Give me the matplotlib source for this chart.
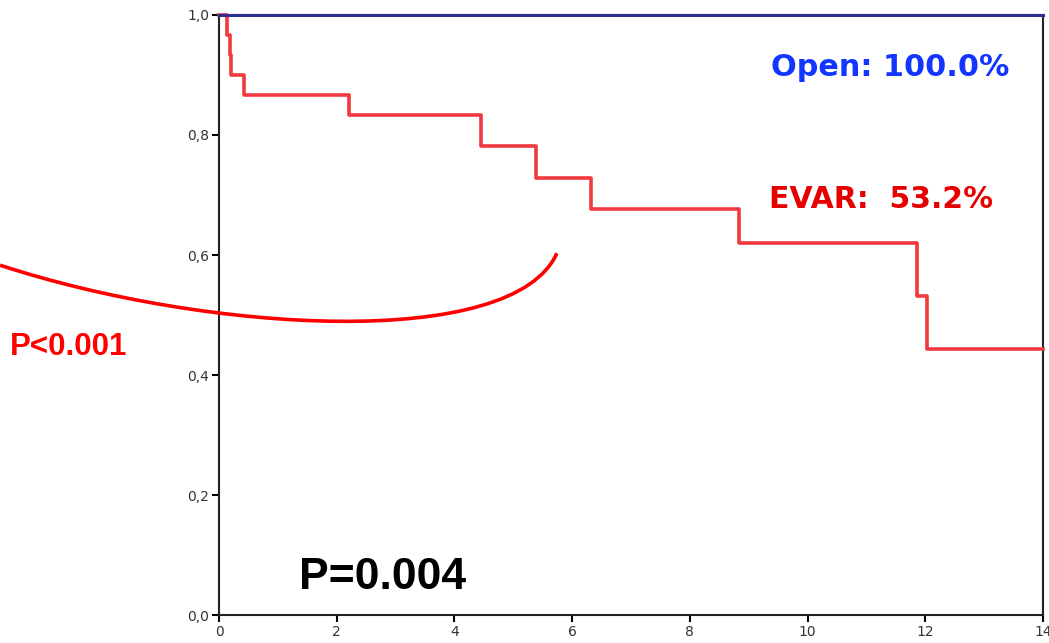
import matplotlib.pyplot as plt
from matplotlib.path import Path
from matplotlib.patches import PathPatch

# Kaplan-Meier style survival
evar_time = [0, 0.14, 0.19, 0.21, 0.42, 2.21, 4.45, 5.39, 6.32, 8.83, 11.86, 12.03, 14]
evar_surv = [1.0, 0.967, 0.933, 0.900, 0.867, 0.833, 0.781, 0.729, 0.677, 0.620, 0.532, 0.443, 0.443]
open_time = [0, 14]
open_surv = [1.0, 1.0]

x_ticks = [0, 2, 4, 6, 8, 10, 12, 14]
y_ticks = [0.0, 0.2, 0.4, 0.6, 0.8, 1.0]
y_labels = ["0,0", "0,2", "0,4", "0,6", "0,8", "1,0"]

fig = plt.figure(figsize=(10.49, 6.43), dpi=100)
ax = fig.add_axes([0.2088, 0.0435, 0.7855, 0.9332])

ax.step(open_time, open_surv, where="post", color="#2e2e8f", lw=2.2, zorder=4, clip_on=False)
ax.step(evar_time, evar_surv, where="post", color="#f03a3f", lw=2.6, zorder=3, clip_on=False)

ax.set_xlim(0, 14)
ax.set_ylim(0, 1)
ax.set_xticks(x_ticks)
ax.set_yticks(y_ticks)
ax.set_yticklabels(y_labels)
ax.tick_params(direction="out", length=5, width=1.5, labelsize=10,
               labelcolor="#333333", pad=2)
for s in ax.spines.values():
    s.set_linewidth(1.5)
    s.set_color("#222222")

# texts
ax.text(0.815, 0.912, "Open: 100.0%", transform=ax.transAxes, ha="center", va="center",
        color="#1236ff", fontsize=21.8, fontweight="bold", family="DejaVu Sans")
ax.text(0.804, 0.692, "EVAR:  53.2%", transform=ax.transAxes, ha="center", va="center",
        color="#e60000", fontsize=21.5, fontweight="bold", family="DejaVu Sans")
ax.text(0.198, 0.062, "P=0.004", transform=ax.transAxes, ha="center", va="center",
        color="black", fontsize=32, fontweight="bold", family="Liberation Sans")
fig.text(0.0653, 0.46, "P<0.001", ha="center", va="center",
         color="#ff0000", fontsize=22.5, fontweight="bold", family="Liberation Sans")

# hand-drawn arc linking the p-values
verts = [(-3.72, 0.583), (-0.2, 0.47), (5.0, 0.44), (5.74, 0.603)]
arc = Path(verts, [Path.MOVETO, Path.CURVE4, Path.CURVE4, Path.CURVE4])
ax.add_patch(PathPatch(arc, fill=False, edgecolor="#ff0000", lw=2.6, clip_on=False, zorder=5))

plt.savefig("out.png", dpi=100)
